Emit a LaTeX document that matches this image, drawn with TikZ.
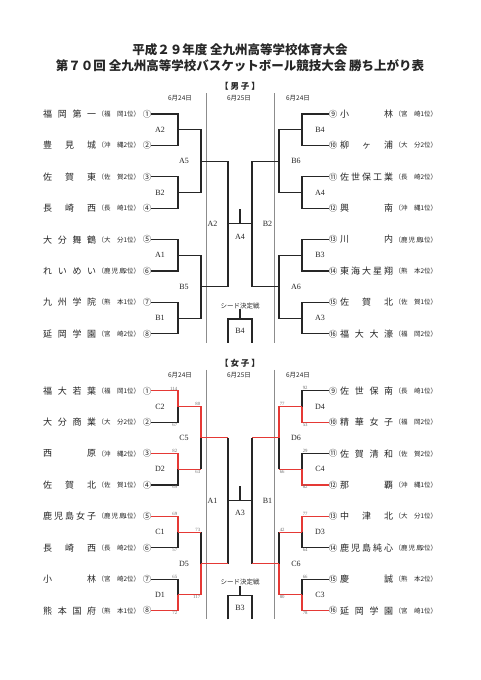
\documentclass[tikz,border=0pt]{standalone}
\usepackage{fontspec}
\setmainfont{Liberation Serif}
\newfontfamily\jp{Noto Sans CJK JP}
\usetikzlibrary{positioning}
\definecolor{inkc}{HTML}{262626}
\definecolor{winc}{HTML}{E53935}
\definecolor{dayc}{HTML}{8C8C8C}
\definecolor{scc}{HTML}{6E6E6E}
\newcommand{\nmbox}[1]{\makebox[53pt][s]{#1}}
\newcommand{\prbox}[1]{\makebox[19.5pt][s]{#1}}
\tikzset{
  ln/.style={draw=inkc,line width=1.1pt},
  win/.style={draw=winc,line width=1.1pt},
  day/.style={draw=dayc,line width=0.9pt},
  tname/.style={anchor=west,inner sep=0pt,text=inkc,font=\jp\fontsize{9}{9}\selectfont},
  tpref/.style={anchor=west,inner sep=0pt,text=inkc,font=\jp\fontsize{6.5}{6.5}\selectfont},
  tnum/.style={inner sep=0pt,text=inkc,font=\jp\fontsize{8.5}{8.5}\selectfont},
  rlab/.style={inner sep=0pt,text=inkc,font=\fontsize{8}{8}\selectfont},
  dlab/.style={inner sep=0pt,text=inkc,font=\jp\fontsize{6.5}{6.5}\selectfont},
  hdr/.style={inner sep=0pt,text=inkc,font=\jp\bfseries\fontsize{8.5}{8.5}\selectfont},
  ttl/.style={inner sep=0pt,text=inkc,font=\jp\bfseries\fontsize{12.5}{12.5}\selectfont},
  sc/.style={inner sep=0.6pt,text=scc,font=\fontsize{4.8}{4.8}\selectfont}
}
\begin{document}
\begin{tikzpicture}[x=1pt,y=-1pt]
\fill[white] (0,0) rectangle (481,680);
\useasboundingbox (0,0) rectangle (481,680);
% title
\node[ttl] (ttl1) at (240,50) {平成２９年度 全九州高等学校体育大会};
\node[ttl] (ttl2) at (240,66) {第７０回 全九州高等学校バスケットボール競技大会 勝ち上がり表};

% ---------- boys ----------
\node[hdr] (mHead) at (240,86) {【 男 子 】};
\node[dlab] (mDay1) at (180,98) {6月24日};
\node[dlab] (mDay2) at (239,98) {6月25日};
\node[dlab] (mDay3) at (298,98) {6月24日};
\draw[day] (206,93) -- (206,342.5);
\draw[day] (274,93) -- (274,342.5);

\foreach \k/\nm/\pr/\rk/\ci in {1/{福 岡 第 一}/{福 岡}/1/①, 2/{豊 見 城}/{沖 縄}/2/②,
  3/{佐 賀 東}/{佐 賀}/2/③, 4/{長 崎 西}/{長 崎}/1/④, 5/{大 分 舞 鶴}/{大 分}/1/⑤,
  6/{れ い め い}/{鹿 児 島}/2/⑥, 7/{九 州 学 院}/{熊 本}/1/⑦, 8/{延 岡 学 園}/{宮 崎}/2/⑧}{
  \pgfmathsetmacro\yy{114+31.4*(\k-1)}
  \node[tname] (mLn\k) at (43,\yy) {\nmbox{\nm}};
  \node[tpref,right=1pt of mLn\k] (mLp\k) {（\prbox{\pr}\rk 位）};
  \node[tnum] (mL\k) at (147,\yy) {\ci};
}
\foreach \k/\nm/\pr/\rk/\ci in {9/{小 林}/{宮 崎}/1/⑨, 10/{柳 ヶ 浦}/{大 分}/2/⑩,
  11/{佐 世 保 工 業}/{長 崎}/2/⑪, 12/{興 南}/{沖 縄}/1/⑫, 13/{川 内}/{鹿 児 島}/1/⑬,
  14/{東 海 大 星 翔}/{熊 本}/2/⑭, 15/{佐 賀 北}/{佐 賀}/1/⑮, 16/{福 大 大 濠}/{福 岡}/2/⑯}{
  \pgfmathsetmacro\yy{114+31.4*(\k-9)}
  \node[tnum] (mR\k) at (333,\yy) {\ci};
  \node[tname] (mRn\k) at (340,\yy) {\nmbox{\nm}};
  \node[tpref,right=1pt of mRn\k] (mRp\k) {（\prbox{\pr}\rk 位）};
}
\foreach \i in {1,...,4}{
  \pgfmathsetmacro\yy{129.7+62.8*(\i-1)}
  \coordinate (m1L\i) at (178,\yy);
  \coordinate (m1R\i) at (302,\yy);
}
\coordinate (m2L1) at (201,161.1);
\coordinate (m2L2) at (201,286.7);
\coordinate (m2R1) at (279,161.1);
\coordinate (m2R2) at (279,286.7);
\coordinate (m3L) at (228,223.9);
\coordinate (m3R) at (252,223.9);
\coordinate (mMid) at (240,223.9);
\coordinate (mTop) at (240,208.9);
\foreach \i in {1,...,4}{
  \pgfmathtruncatemacro\a{2*\i-1}
  \pgfmathtruncatemacro\b{2*\i}
  \pgfmathtruncatemacro\c{2*\i+7}
  \pgfmathtruncatemacro\d{2*\i+8}
  \draw[ln] (mL\a.east) -| (m1L\i) |- (mL\b.east);
  \draw[ln] (mR\c.west) -| (m1R\i) |- (mR\d.west);
}
\draw[ln] (m1L1) -| (m2L1) |- (m1L2);
\draw[ln] (m1L3) -| (m2L2) |- (m1L4);
\draw[ln] (m1R1) -| (m2R1) |- (m1R2);
\draw[ln] (m1R3) -| (m2R2) |- (m1R4);
\draw[ln] (m2L1) -| (m3L) |- (m2L2);
\draw[ln] (m2R1) -| (m3R) |- (m2R2);
\draw[ln] (m3L) -- (m3R);
\draw[ln] (mMid) -- (mTop);
\foreach \t/\xx/\yy [count=\n] in {A2/160/129.7, B2/160/192.5, A1/160/255.3, B1/160/318.1,
  A5/184/161.1, B5/184/286.7, A2/212.5/223.9, B4/320/129.7, A4/320/192.5, B3/320/255.3,
  A3/320/318.1, B6/296/161.1, A6/296/286.7, B2/267.5/223.9, A4/240/236.5}
  \node[rlab] (mLab\n) at (\xx,\yy) {\t};
% seed game
\node[dlab] (mSeed) at (240,305.7) {シード決定戦};
\coordinate (mS) at (240,319);
\coordinate (mSl) at (228,342.5);
\coordinate (mSr) at (252,342.5);
\draw[ln] (mSeed.south) -- (mS);
\draw[ln] (mSl) |- (mS) -| (mSr);
\node[rlab] (mSlab) at (240,331) {B4};

% ---------- girls ----------
\node[hdr] (fHead) at (240,362.8) {【 女 子 】};
\node[dlab] (fDay1) at (180,374.8) {6月24日};
\node[dlab] (fDay2) at (239,374.8) {6月25日};
\node[dlab] (fDay3) at (298,374.8) {6月24日};
\draw[day] (206,369.8) -- (206,619.3);
\draw[day] (274,369.8) -- (274,619.3);

\foreach \k/\nm/\pr/\rk/\ci in {1/{福 大 若 葉}/{福 岡}/1/①, 2/{大 分 商 業}/{大 分}/2/②,
  3/{西 原}/{沖 縄}/2/③, 4/{佐 賀 北}/{佐 賀}/1/④, 5/{鹿 児 島 女 子}/{鹿 児 島}/1/⑤,
  6/{長 崎 西}/{長 崎}/2/⑥, 7/{小 林}/{宮 崎}/2/⑦, 8/{熊 本 国 府}/{熊 本}/1/⑧}{
  \pgfmathsetmacro\yy{390.8+31.4*(\k-1)}
  \node[tname] (fLn\k) at (43,\yy) {\nmbox{\nm}};
  \node[tpref,right=1pt of fLn\k] (fLp\k) {（\prbox{\pr}\rk 位）};
  \node[tnum] (fL\k) at (147,\yy) {\ci};
}
\foreach \k/\nm/\pr/\rk/\ci in {9/{佐 世 保 南}/{長 崎}/1/⑨, 10/{精 華 女 子}/{福 岡}/2/⑩,
  11/{佐 賀 清 和}/{佐 賀}/2/⑪, 12/{那 覇}/{沖 縄}/1/⑫, 13/{中 津 北}/{大 分}/1/⑬,
  14/{鹿 児 島 純 心}/{鹿 児 島}/2/⑭, 15/{慶 誠}/{熊 本}/2/⑮, 16/{延 岡 学 園}/{宮 崎}/1/⑯}{
  \pgfmathsetmacro\yy{390.8+31.4*(\k-9)}
  \node[tnum] (fR\k) at (333,\yy) {\ci};
  \node[tname] (fRn\k) at (340,\yy) {\nmbox{\nm}};
  \node[tpref,right=1pt of fRn\k] (fRp\k) {（\prbox{\pr}\rk 位）};
}
\foreach \i in {1,...,4}{
  \pgfmathsetmacro\yy{406.5+62.8*(\i-1)}
  \coordinate (f1L\i) at (178,\yy);
  \coordinate (f1R\i) at (302,\yy);
}
\coordinate (f2L1) at (201,437.9);
\coordinate (f2L2) at (201,563.5);
\coordinate (f2R1) at (279,437.9);
\coordinate (f2R2) at (279,563.5);
\coordinate (f3L) at (228,500.7);
\coordinate (f3R) at (252,500.7);
\coordinate (fMid) at (240,500.7);
\coordinate (fTop) at (240,485.7);
% losers in black
\draw[ln] (fL2.east) -| (f1L1);
\draw[ln] (fL4.east) -| (f1L2);
\draw[ln] (fL6.east) -| (f1L3);
\draw[ln] (fL7.east) -| (f1L4);
\draw[ln] (fR9.west) -| (f1R1);
\draw[ln] (fR11.west) -| (f1R2);
\draw[ln] (fR14.west) -| (f1R3);
\draw[ln] (fR15.west) -| (f1R4);
\draw[ln] (f1L2 -| f2L1) -- (f2L1);
\draw[ln] (f1L3 -| f2L2) -- (f2L2);
\draw[ln] (f1R2 -| f2R1) -- (f2R1);
\draw[ln] (f1R3 -| f2R2) -- (f2R2);
\draw[ln] (f2L1 -| f3L) -- (f2L2 -| f3L);
\draw[ln] (f2R1 -| f3R) -- (f2R2 -| f3R);
\draw[ln] (f3L) -- (f3R);
\draw[ln] (fMid) -- (fTop);
% winners in red
\draw[win] (fL1.east) -| (f1L1);
\draw[win] (fL3.east) -| (f1L2);
\draw[win] (fL5.east) -| (f1L3);
\draw[win] (fL8.east) -| (f1L4);
\draw[win] (fR10.west) -| (f1R1);
\draw[win] (fR12.west) -| (f1R2);
\draw[win] (fR13.west) -| (f1R3);
\draw[win] (fR16.west) -| (f1R4);
\draw[win] (f1L1) -| (f2L1);
\draw[win] (f1L2) -- (f1L2 -| f2L1);
\draw[win] (f1L3) -- (f1L3 -| f2L2);
\draw[win] (f1L4) -| (f2L2);
\draw[win] (f1R1) -| (f2R1);
\draw[win] (f1R2) -- (f1R2 -| f2R1);
\draw[win] (f1R3) -- (f1R3 -| f2R2);
\draw[win] (f1R4) -| (f2R2);
\draw[win] (f2L1) -- (f2L1 -| f3L);
\draw[win] (f2L2) -- (f2L2 -| f3L);
\draw[win] (f2R1) -- (f2R1 -| f3R);
\draw[win] (f2R2) -- (f2R2 -| f3R);
\foreach \t/\xx/\yy [count=\n] in {C2/160/406.5, D2/160/469.3, C1/160/532.1, D1/160/594.9,
  C5/184/437.9, D5/184/563.5, A1/212.5/500.7, D4/320/406.5, C4/320/469.3, D3/320/532.1,
  C3/320/594.9, D6/296/437.9, C6/296/563.5, B1/267.5/500.7, A3/240/513.3}
  \node[rlab] (fLab\n) at (\xx,\yy) {\t};
% scores
\foreach \c/\r/\v [count=\n] in {f1L1/fL1/114, f1L2/fL3/82, f1L3/fL5/69, f1L4/fL7/65,
  f2L1/f1L1/80, f2L2/f1L3/73}
  \node[sc,above left] (scA\n) at (\c |- \r) {\v};
\foreach \c/\r/\v [count=\n] in {f1L1/fL2/67, f1L2/fL4/69, f1L3/fL6/57, f1L4/fL8/72,
  f2L1/f1L2/63, f2L2/f1L4/117}
  \node[sc,below left] (scB\n) at (\c |- \r) {\v};
\foreach \c/\r/\v [count=\n] in {f1R1/fR9/92, f1R2/fR11/29, f1R3/fR13/77, f1R4/fR15/66,
  f2R1/f1R1/77, f2R2/f1R3/42}
  \node[sc,above right] (scC\n) at (\c |- \r) {\v};
\foreach \c/\r/\v [count=\n] in {f1R1/fR10/53, f1R2/fR12/82, f1R3/fR14/64, f1R4/fR16/78,
  f2R1/f1R2/66, f2R2/f1R4/80}
  \node[sc,below right] (scD\n) at (\c |- \r) {\v};
% seed game
\node[dlab] (fSeed) at (240,582.5) {シード決定戦};
\coordinate (fS) at (240,595.8);
\coordinate (fSl) at (228,619.3);
\coordinate (fSr) at (252,619.3);
\draw[ln] (fSeed.south) -- (fS);
\draw[ln] (fSl) |- (fS) -| (fSr);
\node[rlab] (fSlab) at (240,607.6) {B3};
\end{tikzpicture}
\end{document}
